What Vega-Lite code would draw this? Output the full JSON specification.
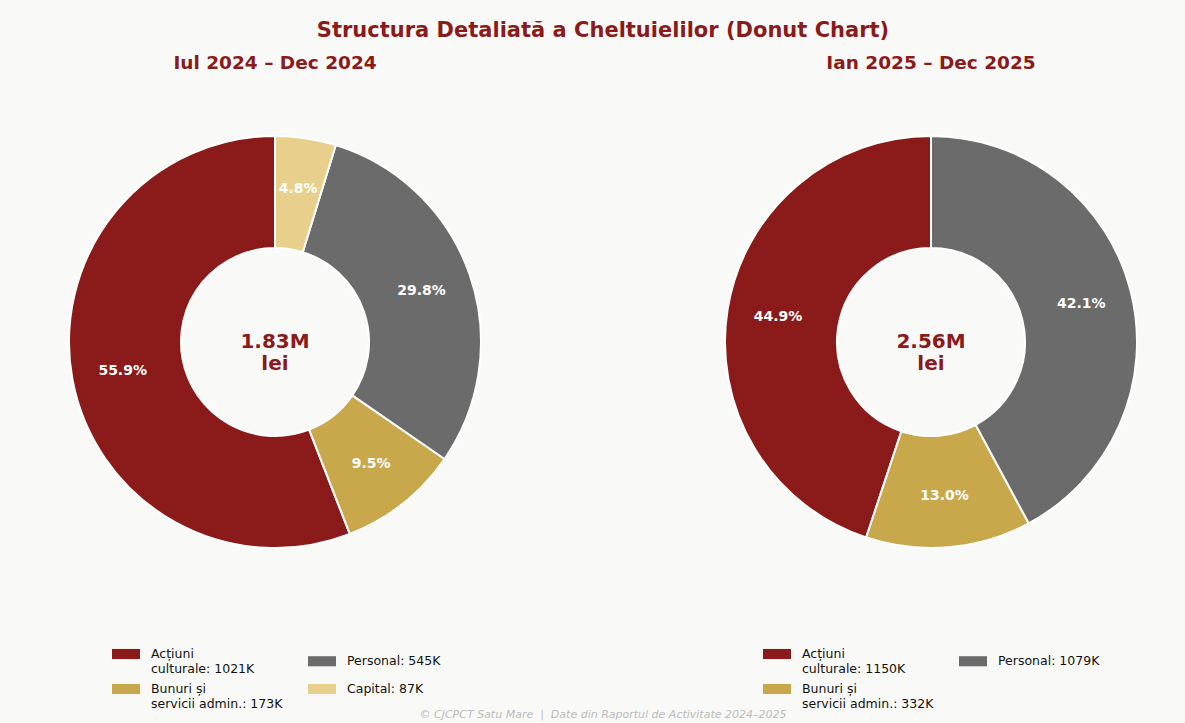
{
  "$schema": "https://vega.github.io/schema/vega-lite/v6.json",
  "background": "#f9f9f7",
  "padding": {"left": 50, "top": 19, "right": 30, "bottom": 4},
  "config": {"view": {"stroke": null}, "font": "DejaVu Sans"},
  "title": {"text": "Structura Detaliată a Cheltuielilor (Donut Chart)", "font": "DejaVu Sans", "fontSize": 21, "fontWeight": "bold", "color": "#8b1a1a", "anchor": "middle", "offset": 13},
  "vconcat": [
    {
      "hconcat": [
        {
          "width": 450, "height": 450,
          "title": {"text": "Iul 2024 – Dec 2024", "font": "DejaVu Sans", "fontSize": 18.5, "fontWeight": "bold", "color": "#8b1a1a", "anchor": "middle", "offset": 45},
          "data": {"values": [
            {"idx": 1, "label": "Acțiuni\nculturale: 1021K", "value": 1021, "pct": "55.9%"},
            {"idx": 2, "label": "Bunuri și\nservicii admin.: 173K", "value": 173, "pct": "9.5%"},
            {"idx": 3, "label": "Personal: 545K", "value": 545, "pct": "29.8%"},
            {"idx": 4, "label": "Capital: 87K", "value": 87, "pct": "4.8%"}
          ]},
          "layer": [
            {
              "mark": {"type": "arc", "outerRadius": 206, "innerRadius": 94, "stroke": "white", "strokeWidth": 2},
              "encoding": {
                "theta": {"field": "value", "type": "quantitative", "stack": true},
                "order": {"field": "idx", "sort": "descending"},
                "color": {"field": "label", "type": "nominal",
                  "scale": {"domain": ["Acțiuni\nculturale: 1021K", "Bunuri și\nservicii admin.: 173K", "Personal: 545K", "Capital: 87K"], "range": ["#8b1a1a", "#c9a84c", "#6b6b6b", "#e8d08c"]},
                  "legend": {"title": null, "orient": "none", "legendX": 62, "legendY": 523, "columns": 2, "columnPadding": 25, "rowPadding": -2,
                    "symbolType": "M-1,-0.36H1V0.36H-1Z", "symbolSize": 784, "symbolStrokeWidth": 0, "symbolOpacity": 1,
                    "labelFontSize": 12.5, "labelColor": "#111111", "labelOffset": 11, "labelLimit": 300,
                    "labelExpr": "split(datum.label, '\\n')"}
                }
              }
            },
            {
              "mark": {"type": "text", "radius": 155, "fill": "white", "fontWeight": "bold", "fontSize": 14},
              "encoding": {
                "theta": {"field": "value", "type": "quantitative", "stack": true},
                "order": {"field": "idx", "sort": "descending"},
                "text": {"field": "pct"}
              }
            },
            {
              "data": {"values": [{"t": "1.83M\nlei"}]},
              "mark": {"type": "text", "lineBreak": "\n", "fontSize": 20, "fontWeight": "bold", "color": "#8b1a1a", "lineHeight": 22},
              "encoding": {"text": {"field": "t"}}
            }
          ]
        },
        {
          "width": 450, "height": 450,
          "title": {"text": "Ian 2025 – Dec 2025", "font": "DejaVu Sans", "fontSize": 18.5, "fontWeight": "bold", "color": "#8b1a1a", "anchor": "middle", "offset": 45},
          "data": {"values": [
            {"idx": 1, "label": "Acțiuni\nculturale: 1150K", "value": 1150, "pct": "44.9%"},
            {"idx": 2, "label": "Bunuri și\nservicii admin.: 332K", "value": 332, "pct": "13.0%"},
            {"idx": 3, "label": "Personal: 1079K", "value": 1079, "pct": "42.1%"}
          ]},
          "layer": [
            {
              "mark": {"type": "arc", "outerRadius": 206, "innerRadius": 94, "stroke": "white", "strokeWidth": 2},
              "encoding": {
                "theta": {"field": "value", "type": "quantitative", "stack": true},
                "order": {"field": "idx", "sort": "descending"},
                "color": {"field": "label", "type": "nominal",
                  "scale": {"domain": ["Acțiuni\nculturale: 1150K", "Bunuri și\nservicii admin.: 332K", "Personal: 1079K"], "range": ["#8b1a1a", "#c9a84c", "#6b6b6b"]},
                  "legend": {"title": null, "orient": "none", "legendX": 57, "legendY": 523, "columns": 2, "columnPadding": 25, "rowPadding": -2,
                    "symbolType": "M-1,-0.36H1V0.36H-1Z", "symbolSize": 784, "symbolStrokeWidth": 0, "symbolOpacity": 1,
                    "labelFontSize": 12.5, "labelColor": "#111111", "labelOffset": 11, "labelLimit": 300,
                    "labelExpr": "split(datum.label, '\\n')"}
                }
              }
            },
            {
              "mark": {"type": "text", "radius": 155, "fill": "white", "fontWeight": "bold", "fontSize": 14},
              "encoding": {
                "theta": {"field": "value", "type": "quantitative", "stack": true},
                "order": {"field": "idx", "sort": "descending"},
                "text": {"field": "pct"}
              }
            },
            {
              "data": {"values": [{"t": "2.56M\nlei"}]},
              "mark": {"type": "text", "lineBreak": "\n", "fontSize": 20, "fontWeight": "bold", "color": "#8b1a1a", "lineHeight": 22},
              "encoding": {"text": {"field": "t"}}
            }
          ]
        }
      ],
      "spacing": 206,
      "resolve": {"scale": {"color": "independent", "theta": "independent"}, "legend": {"color": "independent"}}
    },
    {
      "width": 1106, "height": 10,
      "data": {"values": [{"t": "© CJCPCT Satu Mare\u00a0\u00a0|\u00a0\u00a0Date din Raportul de Activitate 2024–2025"}]},
      "mark": {"type": "text", "fontSize": 11, "fontStyle": "italic", "color": "#bbbbbb"},
      "encoding": {"text": {"field": "t"}}
    }
  ],
  "spacing": -2
}
